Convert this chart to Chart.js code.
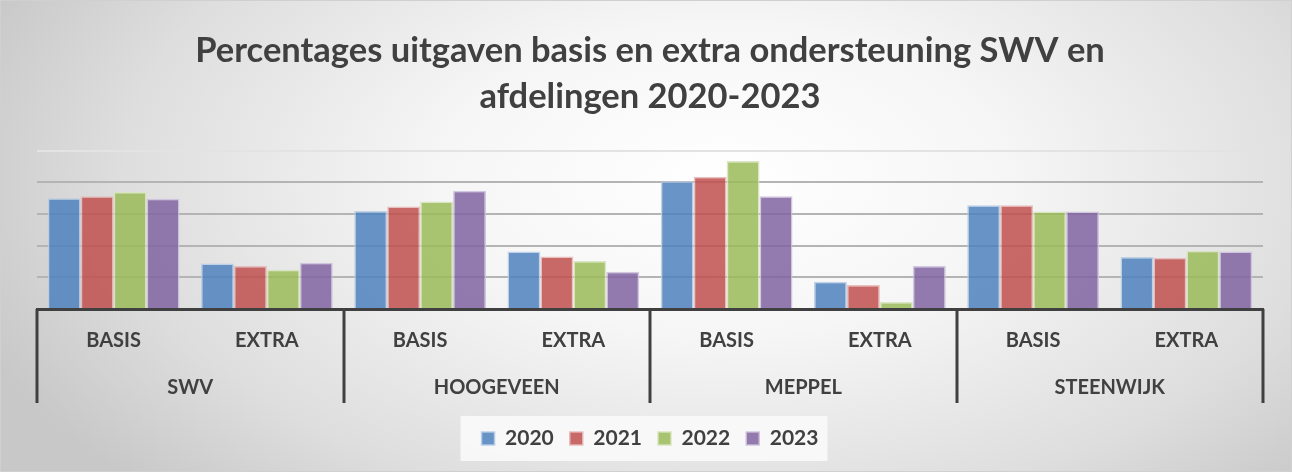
<!DOCTYPE html>
<html>
<head>
<meta charset="utf-8">
<script src="https://cdn.jsdelivr.net/npm/chart.js@4"></script>
<style>
  html, body { margin: 0; padding: 0; }
  #wrap {
    width: 1292px; height: 472px; box-sizing: border-box;
    border: 1px solid #d0d0d0;
    background: radial-gradient(ellipse 62% 95% at 56% 38%, #ffffff 0%, #f6f6f6 35%, #dedede 75%, #c8c8c8 100%);
  }
  canvas { display: block; }
</style>
</head>
<body>
<div id="wrap"><canvas id="chart" width="1290" height="470"></canvas></div>
<script>
// ==================== DATA ====================
const regions = ['SWV', 'HOOGEVEEN', 'MEPPEL', 'STEENWIJK'];
const kinds = ['BASIS', 'EXTRA'];
const categories = regions.flatMap(() => kinds);
const years = ['2020', '2021', '2022', '2023'];

// per categorie: SWV basis, SWV extra, Hoogeveen basis, ... (percentages, geschat)
const values2020 = [17.5, 7.2, 15.5, 9.1, 20.2, 4.3, 16.4, 8.2];
const values2021 = [17.8, 6.8, 16.2, 8.3, 20.9, 3.8, 16.4, 8.1];
const values2022 = [18.5, 6.2, 17.0, 7.6, 23.4, 1.1, 15.4, 9.2];
const values2023 = [17.4, 7.3, 18.7, 5.9, 17.8, 6.8, 15.4, 9.1];

const fills = ['rgba(79,129,189,0.85)', 'rgba(192,80,77,0.85)', 'rgba(155,187,89,0.85)', 'rgba(128,100,162,0.85)'];
const edges = ['rgba(185,205,229,0.9)', 'rgba(230,185,184,0.9)', 'rgba(215,228,189,0.9)', 'rgba(204,193,218,0.9)'];

const FONT = 'Lato, "Open Sans", sans-serif';
const TEXT = '#404040';

// ==================== PLUGINS ====================
const legendBox = {
    id: 'legendBox',
    beforeDraw(chart) {
        const boxes = chart.legend && chart.legend.legendHitBoxes;
        if (!boxes || !boxes.length) return;
        const first = boxes[0], last = boxes[boxes.length - 1];
        const ctx = chart.ctx;
        ctx.save();
        ctx.fillStyle = 'rgba(250,250,250,0.9)';
        ctx.fillRect(first.left - 21, first.top - 12, last.left + last.width - first.left + 30, first.height + 24);
        ctx.restore();
    }
};

const groupAxis = {
    id: 'groupAxis',
    afterDraw(chart) {
        const x = chart.scales.x;
        const area = chart.chartArea;
        const ctx = chart.ctx;
        const step = x.getPixelForValue(1) - x.getPixelForValue(0);
        const y0 = area.bottom;
        ctx.save();
        ctx.strokeStyle = TEXT;
        ctx.lineWidth = 3;
        ctx.beginPath();
        for (let g = 0; g <= regions.length; g++) {
            const px = Math.round(x.getPixelForValue(g * kinds.length) - step / 2);
            ctx.moveTo(px, y0);
            ctx.lineTo(px, y0 + 94);
        }
        ctx.stroke();
        ctx.fillStyle = TEXT;
        ctx.font = 'bold 20px ' + FONT;
        ctx.textAlign = 'center';
        ctx.textBaseline = 'middle';
        regions.forEach((r, g) => {
            const a = x.getPixelForValue(g * kinds.length);
            const b = x.getPixelForValue(g * kinds.length + kinds.length - 1);
            ctx.fillText(r, (a + b) / 2, y0 + 79);
        });
        ctx.restore();
    }
};

// ==================== CHART ====================
new Chart(document.getElementById('chart'), {
    type: 'bar',
    data: {
        labels: categories,
        datasets: [values2020, values2021, values2022, values2023].map((vals, i) => ({
            label: years[i],
            data: vals,
            backgroundColor: fills[i],
            borderColor: edges[i],
            borderWidth: 1.5,
            categoryPercentage: 0.86,
            barPercentage: 1
        }))
    },
    options: {
        responsive: false,
        animation: false,
        layout: { padding: { left: 36, right: 28, bottom: 12 } },
        scales: {
            x: {
                grid: { display: false },
                border: { display: true, color: TEXT, width: 3 },
                ticks: { color: TEXT, font: { family: FONT, size: 20, weight: 'bold' }, padding: 12 },
                afterFit: (scale) => { scale.height = 103; }
            },
            y: {
                min: 0, max: 25,
                ticks: { display: false, stepSize: 5 },
                border: { display: false },
                grid: {
                    drawTicks: false,
                    lineWidth: 2,
                    color: (c) => c.tick && c.tick.value === 25 ? '#e3e3e3' : '#b4b4b4'
                }
            }
        },
        plugins: {
            title: {
                display: true,
                text: ['Percentages uitgaven basis en extra ondersteuning SWV en', 'afdelingen 2020-2023'],
                color: TEXT,
                font: { family: FONT, size: 34.5, weight: 'bold', lineHeight: 1.33 },
                padding: { top: 27, bottom: 31 }
            },
            legend: {
                position: 'bottom',
                labels: {
                    color: TEXT,
                    boxWidth: 13, boxHeight: 13,
                    padding: 16,
                    font: { family: FONT, size: 21, weight: 'bold' }
                }
            },
            tooltip: { enabled: false }
        }
    },
    plugins: [legendBox, groupAxis]
});
</script>
</body>
</html>
